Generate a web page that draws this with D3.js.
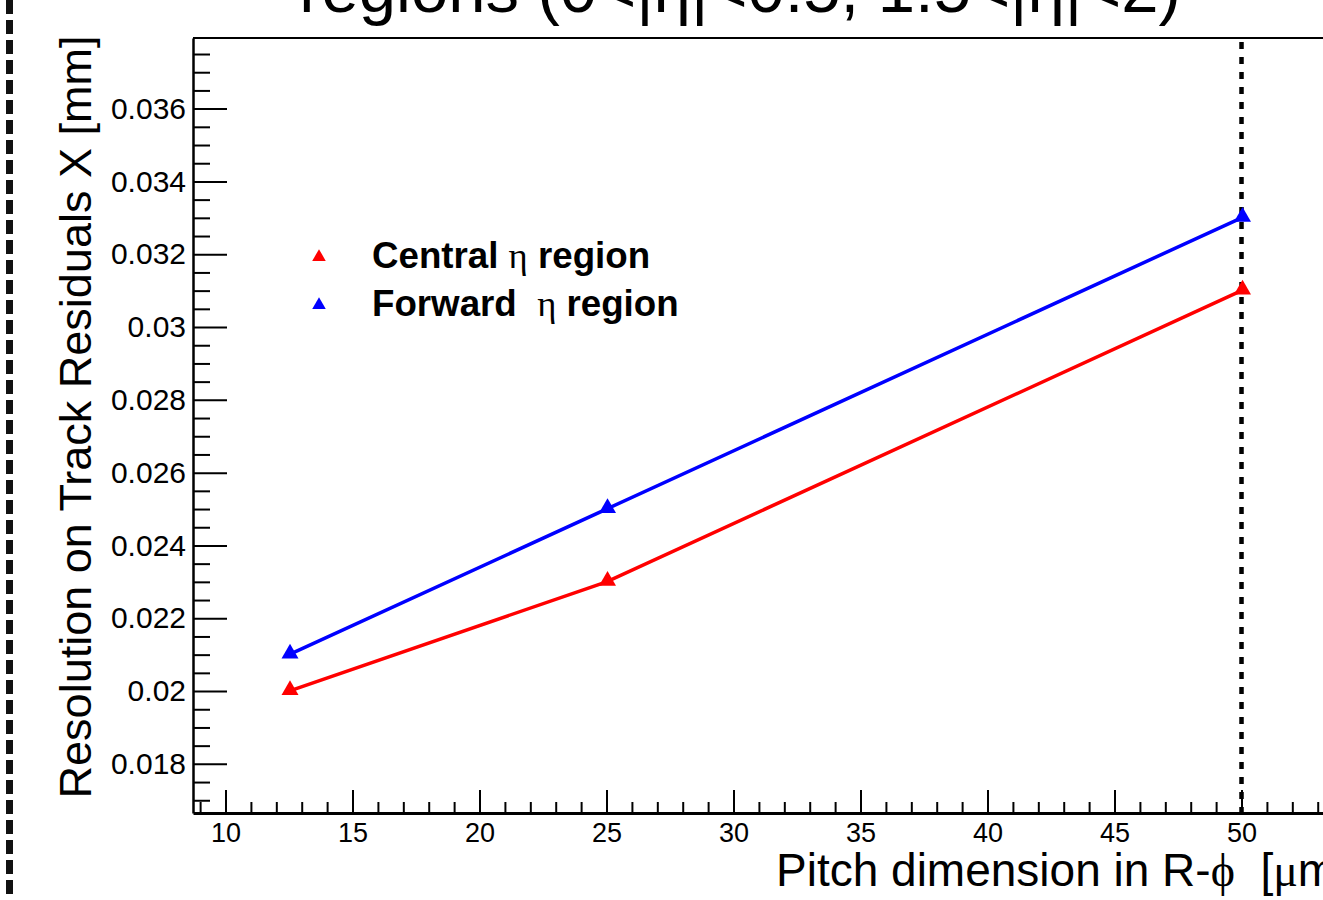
<!DOCTYPE html>
<html>
<head>
<meta charset="utf-8">
<script src="https://cdn.jsdelivr.net/npm/d3@7"></script>
<style>
  body { margin: 0; background: #fff; }
  svg { display: block; }
  text { white-space: pre; }
</style>
</head>
<body>
<div id="chart"></div>
<script>
// Data
const pitch = [12.5, 25, 50];
const central = [0.020, 0.023, 0.031];
const forward = [0.021, 0.025, 0.033];
const seriesNames = ["Central", "Forward "];
const seriesColors = ["#ff0000", "#0000ff"];
const xTicks = [10, 15, 20, 25, 30, 35, 40, 45, 50, 55];
const yTicks = [0.018, 0.02, 0.022, 0.024, 0.026, 0.028, 0.03, 0.032, 0.034, 0.036];
const cutLine = 50;

const W = 1323, H = 900;
const frame = { left: 193, top: 38, bottom: 813 };
const xmin = 8.72, xmax = 54.6;
const ymin = 0.01665, ymax = 0.03794;
const sans = "'Liberation Sans', Arial, Helvetica, sans-serif";
const serif = "'Liberation Serif', 'Times New Roman', serif";

const svg = d3.select("#chart").append("svg")
  .attr("width", W)
  .attr("height", H);

const xSc = d3.scaleLinear().domain([xmin, xmax])
  .range([frame.left, frame.left + (xmax - xmin) * 25.4]);
const ySc = d3.scaleLinear().domain([ymin, ymax])
  .range([frame.bottom, frame.top]);

// Dashed border on the far left
svg.append("line")
  .attr("x1", 9.5).attr("x2", 9.5)
  .attr("y1", 0).attr("y2", H)
  .attr("stroke", "#111")
  .attr("stroke-width", 7)
  .attr("stroke-dasharray", "14,6");

// Title (cut at the top)
svg.append("text")
  .attr("x", 740).attr("y", 12)
  .attr("text-anchor", "middle")
  .attr("font-family", sans)
  .attr("font-size", 67)
  .text("regions (0<|η|<0.5, 1.5<|η|<2)");

// Frame top line
svg.append("line")
  .attr("x1", frame.left).attr("x2", W)
  .attr("y1", frame.top).attr("y2", frame.top)
  .attr("stroke", "#000").attr("stroke-width", 2);

// Minor ticks
const xMinor = d3.range(9, 55, 1).filter(v => v % 5 !== 0);
const yMinor = d3.range(34, 76).filter(v => v % 4 !== 0).map(v => v * 0.0005);

svg.append("g")
  .attr("transform", `translate(0, ${frame.bottom})`)
  .call(d3.axisBottom(xSc).tickValues(xMinor).tickSize(-11).tickFormat(""))
  .call(g => g.select(".domain").remove())
  .selectAll("line").attr("stroke-width", 2);

svg.append("g")
  .attr("transform", `translate(${frame.left}, 0)`)
  .call(d3.axisLeft(ySc).tickValues(yMinor).tickSize(-17).tickFormat(""))
  .call(g => g.select(".domain").remove())
  .selectAll("line").attr("stroke-width", 2);

// Major ticks and labels
const xAxis = svg.append("g")
  .attr("transform", `translate(0, ${frame.bottom})`)
  .call(d3.axisBottom(xSc).tickValues(xTicks).tickSize(-23).tickPadding(10).tickSizeOuter(0));
xAxis.select(".domain").attr("stroke-width", 3);
xAxis.selectAll("line").attr("stroke-width", 2);
xAxis.selectAll("text")
  .attr("font-family", sans).attr("font-size", 27).attr("fill", "#000");

const yAxis = svg.append("g")
  .attr("transform", `translate(${frame.left}, 0)`)
  .call(d3.axisLeft(ySc).tickValues(yTicks).tickSize(-34).tickPadding(7).tickSizeOuter(0)
    .tickFormat(d3.format("~f")));
yAxis.select(".domain").attr("stroke-width", 2.5);
yAxis.selectAll("line").attr("stroke-width", 2);
yAxis.selectAll("text")
  .attr("font-family", sans).attr("font-size", 30).attr("fill", "#000");

// Axis titles
svg.append("text")
  .attr("transform", "translate(91, 417) rotate(-90)")
  .attr("text-anchor", "middle")
  .attr("font-family", sans)
  .attr("font-size", 45)
  .text("Resolution on Track Residuals X [mm]");

const xl = svg.append("text")
  .attr("x", 776).attr("y", 886)
  .attr("font-family", sans)
  .attr("font-size", 46);
xl.append("tspan").text("Pitch dimension in R-");
xl.append("tspan").attr("font-family", serif).text("ϕ");
xl.append("tspan").text("  [");
xl.append("tspan").attr("font-family", serif).text("μ");
xl.append("tspan").text("m]");

// Vertical dotted line
svg.append("line")
  .attr("x1", xSc(cutLine)).attr("x2", xSc(cutLine))
  .attr("y1", frame.top + 4).attr("y2", frame.bottom)
  .attr("stroke", "#000")
  .attr("stroke-width", 4.5)
  .attr("stroke-dasharray", "7,8");

// Series
const series = [central, forward];
const line = d3.line().x(d => xSc(d[0])).y(d => ySc(d[1]));
const tri = d3.symbol(d3.symbolTriangle);

series.forEach((vals, i) => {
  const pts = pitch.map((p, j) => [p, vals[j]]);
  svg.append("path")
    .datum(pts)
    .attr("d", line)
    .attr("fill", "none")
    .attr("stroke", seriesColors[i])
    .attr("stroke-width", 3.5);
  svg.selectAll(null)
    .data(pts)
    .join("path")
    .attr("transform", d => `translate(${xSc(d[0]) + 1}, ${ySc(d[1]) - 1})`)
    .attr("d", tri.size(125)())
    .attr("fill", seriesColors[i]);
});

// Legend
const legend = svg.append("g");
seriesNames.forEach((name, i) => {
  const y = 257 + i * 48;
  legend.append("path")
    .attr("transform", `translate(319, ${y})`)
    .attr("d", tri.size(80)())
    .attr("fill", seriesColors[i]);
  const t = legend.append("text")
    .attr("x", 372).attr("y", y + 11)
    .attr("font-family", sans)
    .attr("font-size", 36.7)
    .attr("font-weight", "bold");
  t.append("tspan").text(name + " ");
  t.append("tspan").attr("font-family", serif).attr("font-weight", "normal").text("η");
  t.append("tspan").text(" region");
});
</script>
</body>
</html>
